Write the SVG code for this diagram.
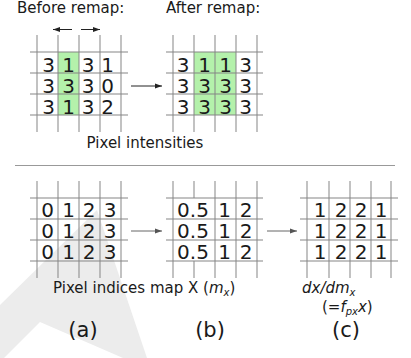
<svg xmlns="http://www.w3.org/2000/svg" width="411" height="358" viewBox="0 0 411 358">
<style>
text{font-family:"DejaVu Sans","Liberation Sans",sans-serif;fill:#1a1a1a}
.d{font-size:20px;text-anchor:middle}
.t{font-size:15px}
.lab{font-size:21px;text-anchor:middle}
.g line{stroke:#858585;stroke-width:1}
.green{fill:#b4f1ab}
.conn{stroke:#222;stroke-width:1;fill:none}
.conn2{stroke:#666;stroke-width:1;fill:none}
</style>
<defs>
<marker id="ah" markerWidth="8" markerHeight="6" refX="7" refY="3" orient="auto" markerUnits="userSpaceOnUse">
<path d="M0,0.5 L7,3 L0,5.5 Z" fill="#222"/>
</marker>
<marker id="ah2" markerWidth="8" markerHeight="6" refX="7" refY="3" orient="auto" markerUnits="userSpaceOnUse">
<path d="M0,0.5 L7,3 L0,5.5 Z" fill="#555"/>
</marker>
</defs>
<rect width="411" height="358" fill="#fff"/>
<g id="watermark" fill="#ececec">
<polygon points="97,210 147,358 123,358 40,322 4,358 0,358 0,305"/>
</g>
<text class="t" x="17" y="13">Before remap:</text>
<text class="t" x="166" y="13">After remap:</text>
<g id="grid-before">
<rect class="green" x="58" y="52" width="21" height="63"/>
<g class="g">
<line x1="37" y1="35" x2="37" y2="132"/><line x1="58" y1="35" x2="58" y2="132"/><line x1="79" y1="35" x2="79" y2="132"/><line x1="100" y1="35" x2="100" y2="132"/><line x1="121" y1="35" x2="121" y2="132"/>
<line x1="30" y1="52" x2="128" y2="52"/><line x1="30" y1="73" x2="128" y2="73"/><line x1="30" y1="94" x2="128" y2="94"/><line x1="30" y1="115" x2="128" y2="115"/>
</g>
<text class="d" y="71.5"><tspan x="48.5">3</tspan><tspan x="68.5">1</tspan><tspan x="88">3</tspan><tspan x="107.5">1</tspan></text>
<text class="d" y="92.5"><tspan x="48.5">3</tspan><tspan x="68.5">3</tspan><tspan x="88">3</tspan><tspan x="107.5">0</tspan></text>
<text class="d" y="113.5"><tspan x="48.5">3</tspan><tspan x="68.5">1</tspan><tspan x="88">3</tspan><tspan x="107.5">2</tspan></text>
</g>
<g id="grid-after">
<rect class="green" x="194" y="52" width="42" height="63"/>
<g class="g">
<line x1="173" y1="35" x2="173" y2="132"/><line x1="194" y1="35" x2="194" y2="132"/><line x1="215" y1="35" x2="215" y2="132"/><line x1="236" y1="35" x2="236" y2="132"/><line x1="257" y1="35" x2="257" y2="132"/>
<line x1="166" y1="52" x2="263" y2="52"/><line x1="166" y1="73" x2="263" y2="73"/><line x1="166" y1="94" x2="263" y2="94"/><line x1="166" y1="115" x2="263" y2="115"/>
</g>
<text class="d" y="71.5"><tspan x="183">3</tspan><tspan x="204.5">1</tspan><tspan x="225.5">1</tspan><tspan x="245.5">3</tspan></text>
<text class="d" y="92.5"><tspan x="183">3</tspan><tspan x="204.5">3</tspan><tspan x="225.5">3</tspan><tspan x="245.5">3</tspan></text>
<text class="d" y="113.5"><tspan x="183">3</tspan><tspan x="204.5">3</tspan><tspan x="225.5">3</tspan><tspan x="245.5">3</tspan></text>
</g>
<text class="t" x="145" y="148" text-anchor="middle">Pixel intensities</text>
<line x1="15" y1="165.5" x2="395" y2="165.5" stroke="#999" stroke-width="1"/>
<g id="grid-indices">
<g class="g">
<line x1="37" y1="181" x2="37" y2="278"/><line x1="58" y1="181" x2="58" y2="278"/><line x1="79" y1="181" x2="79" y2="278"/><line x1="100" y1="181" x2="100" y2="278"/><line x1="121" y1="181" x2="121" y2="278"/>
<line x1="30" y1="198" x2="128" y2="198"/><line x1="30" y1="219" x2="128" y2="219"/><line x1="30" y1="240" x2="128" y2="240"/><line x1="30" y1="261" x2="128" y2="261"/>
</g>
<text class="d" y="216.5"><tspan x="47.5">0</tspan><tspan x="68.5">1</tspan><tspan x="89">2</tspan><tspan x="110">3</tspan></text>
<text class="d" y="237.5"><tspan x="47.5">0</tspan><tspan x="68.5">1</tspan><tspan x="89">2</tspan><tspan x="110">3</tspan></text>
<text class="d" y="258.5"><tspan x="47.5">0</tspan><tspan x="68.5">1</tspan><tspan x="89">2</tspan><tspan x="110">3</tspan></text>
</g>
<g id="grid-mapped">
<g class="g">
<line x1="173" y1="181" x2="173" y2="278"/><line x1="194" y1="181" x2="194" y2="198"/><line x1="194" y1="261" x2="194" y2="278"/><line x1="215" y1="181" x2="215" y2="278"/><line x1="236" y1="181" x2="236" y2="278"/><line x1="257" y1="181" x2="257" y2="278"/>
<line x1="166" y1="198" x2="263" y2="198"/><line x1="166" y1="219" x2="263" y2="219"/><line x1="166" y1="240" x2="263" y2="240"/><line x1="166" y1="261" x2="263" y2="261"/>
</g>
<text class="d" y="216.5"><tspan x="193">0.5</tspan><tspan x="224.5">1</tspan><tspan x="246">2</tspan></text>
<text class="d" y="237.5"><tspan x="193">0.5</tspan><tspan x="224.5">1</tspan><tspan x="246">2</tspan></text>
<text class="d" y="258.5"><tspan x="193">0.5</tspan><tspan x="224.5">1</tspan><tspan x="246">2</tspan></text>
</g>
<g id="grid-deriv">
<g class="g">
<line x1="307" y1="181" x2="307" y2="278"/><line x1="329" y1="181" x2="329" y2="278"/><line x1="350" y1="181" x2="350" y2="278"/><line x1="371" y1="181" x2="371" y2="278"/><line x1="391" y1="181" x2="391" y2="278"/>
<line x1="300" y1="198" x2="398" y2="198"/><line x1="300" y1="219" x2="398" y2="219"/><line x1="300" y1="240" x2="398" y2="240"/><line x1="300" y1="261" x2="398" y2="261"/>
</g>
<text class="d" y="216.5"><tspan x="320">1</tspan><tspan x="341">2</tspan><tspan x="361">2</tspan><tspan x="381">1</tspan></text>
<text class="d" y="237.5"><tspan x="320">1</tspan><tspan x="341">2</tspan><tspan x="361">2</tspan><tspan x="381">1</tspan></text>
<text class="d" y="258.5"><tspan x="320">1</tspan><tspan x="341">2</tspan><tspan x="361">2</tspan><tspan x="381">1</tspan></text>
</g>
<g id="connectors">
<line class="conn" x1="72" y1="29.5" x2="53" y2="29.5" marker-end="url(#ah)"/>
<line class="conn" x1="81" y1="29.5" x2="100" y2="29.5" marker-end="url(#ah)"/>
<line class="conn" x1="131" y1="86" x2="162" y2="86" marker-end="url(#ah)"/>
<line class="conn2" x1="131" y1="231" x2="162" y2="231" marker-end="url(#ah2)"/>
<line class="conn2" x1="267" y1="231" x2="297" y2="231" marker-end="url(#ah2)"/>
</g>
<text class="t" x="53" y="293">Pixel indices map X (<tspan font-style="italic">m</tspan><tspan font-style="italic" font-size="10" dy="3">x</tspan><tspan dy="-3">)</tspan></text>
<text class="t" x="302" y="293" font-style="italic">dx/dm<tspan font-size="10" dy="3">x</tspan></text>
<text class="t" x="322" y="312">(=<tspan font-style="italic">f</tspan><tspan font-style="italic" font-size="10" dy="3">px</tspan><tspan font-style="italic" dy="-3">x</tspan>)</text>
<text class="lab" x="83" y="337">(a)</text>
<text class="lab" x="210" y="337">(b)</text>
<text class="lab" x="346" y="337">(c)</text>
</svg>
